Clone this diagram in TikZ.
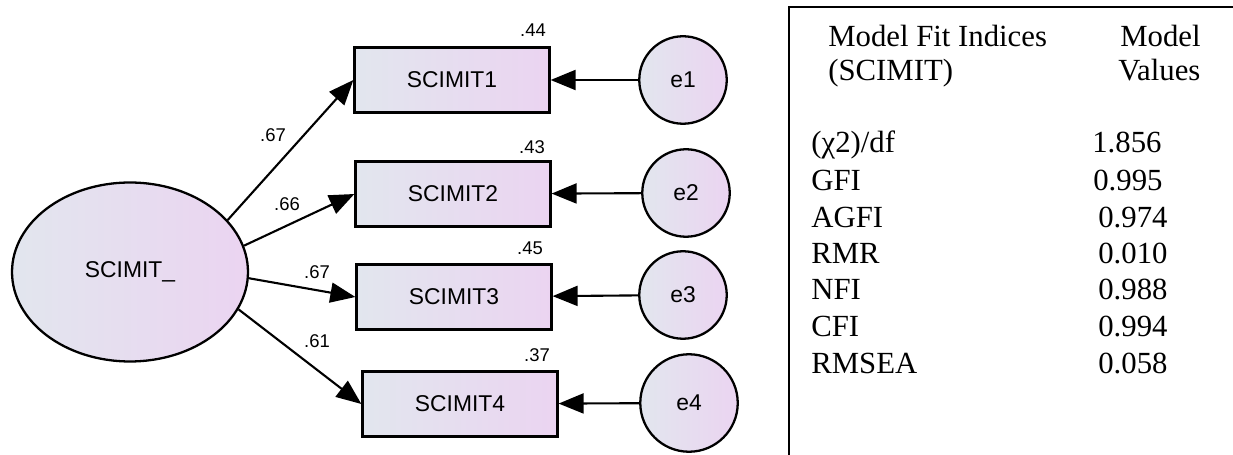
\documentclass[tikz,border=0pt]{standalone}
\usepackage{fontspec}
\setmainfont{Liberation Serif}
\newfontfamily\semfont{Liberation Sans}
\usepackage{tikz}
\usetikzlibrary{shapes.geometric, arrows.meta, positioning}
\definecolor{fillleft}{HTML}{E2E6EE}
\definecolor{fillright}{HTML}{EBD4F1}

\begin{document}
\begin{tikzpicture}[
        x=0.02cm, y=-0.02cm,
        semshade/.style={draw, line width=1.3pt, left color=fillleft, right color=fillright, font=\semfont\fontsize{13}{15}\selectfont},
        observed/.style={rectangle, semshade, minimum width=3.9cm, minimum height=1.3cm},
        latent/.style={ellipse, semshade, minimum width=4.72cm, minimum height=3.58cm},
        errterm/.style={circle, semshade, minimum size=1.75cm, inner sep=0pt},
        loading/.style={-{Triangle[length=0.5cm,width=0.4cm]}, line width=1.2pt},
        coef/.style={font=\semfont\fontsize{10.5}{12}\selectfont, inner sep=1pt},
        fitrow/.style={anchor=base west, inner sep=0pt, font=\fontsize{17.5}{20}\selectfont}
    ]
    \useasboundingbox (0,0) rectangle (1233,455);

    % Latent factor
    \node[latent] (scimit) at (130,272) {SCIMIT\_};

    % Indicators
    \node[observed] (ind1) at (452,80) {SCIMIT1};
    \node[observed] (ind2) at (453,194) {SCIMIT2};
    \node[observed] (ind3) at (454,297) {SCIMIT3};
    \node[observed] (ind4) at (460,404) {SCIMIT4};

    % Error terms
    \node[errterm] (e1) at (683,80) {e1};
    \node[errterm] (e2) at (686,193) {e2};
    \node[errterm] (e3) at (683,295) {e3};
    \node[errterm, minimum height=1.95cm] (e4) at (689,403) {e4};

    % Loadings
    \draw[loading] (scimit.28) -- (ind1.west);
    \draw[loading] (scimit.13) -- (ind2.west);
    \draw[loading] (scimit.-3) -- (ind3.west);
    \draw[loading] (scimit.-19) -- (ind4.west);
    \node[coef] (w1) at (273,135) {.67};
    \node[coef] (w2) at (287,204) {.66};
    \node[coef] (w3) at (317,272) {.67};
    \node[coef] (w4) at (317,341) {.61};

    % Errors to indicators
    \draw[loading] (e1) -- (ind1);
    \draw[loading] (e2) -- (ind2);
    \draw[loading] (e3) -- (ind3);
    \draw[loading] (e4) -- (ind4);

    % Squared multiple correlations
    \node[coef] (r1) at (533,30) {.44};
    \node[coef] (r2) at (532,147) {.43};
    \node[coef] (r3) at (530,248) {.45};
    \node[coef] (r4) at (537,355) {.37};

    % Fit table
    \draw[line width=1.1pt] (789,455) |- (1233,7);
    \node[fitrow] (hdr1) at (828,47) {Model Fit Indices};
    \node[fitrow] (hdr2) at (828,81) {(SCIMIT)};
    \node[fitrow] (hdr3) at (1120,47) {Model};
    \node[fitrow] (hdr4) at (1118,81) {Values};

    \node[fitrow] (chi) at (811,153) {(χ2)/df};
    \node[fitrow] (gfi) at (811,191) {GFI};
    \node[fitrow] (agfi) at (811,228) {AGFI};
    \node[fitrow] (rmr) at (811,264) {RMR};
    \node[fitrow] (nfi) at (811,300) {NFI};
    \node[fitrow] (cfi) at (811,337) {CFI};
    \node[fitrow] (rmsea) at (811,374) {RMSEA};

    \node[fitrow] (chiv) at (1092,153) {1.856};
    \node[fitrow] (gfiv) at (1093,191) {0.995};
    \node[fitrow] (agfiv) at (1098,228) {0.974};
    \node[fitrow] (rmrv) at (1098,264) {0.010};
    \node[fitrow] (nfiv) at (1098,300) {0.988};
    \node[fitrow] (cfiv) at (1098,337) {0.994};
    \node[fitrow] (rmseav) at (1098,374) {0.058};
\end{tikzpicture}
\end{document}
